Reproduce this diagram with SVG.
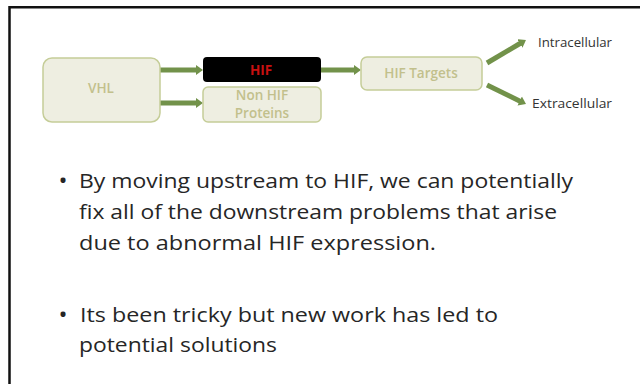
<svg xmlns="http://www.w3.org/2000/svg" width="640" height="384" viewBox="0 0 640 384">
<style>
.box{fill:#eeeee1;stroke:#c5cd98;stroke-width:1.5}
.lbl{font-family:"Open Sans","Liberation Sans",sans-serif;font-size:13.5px;font-weight:600;fill:#c2c08c;text-anchor:middle}
.out{font-family:"Open Sans","Liberation Sans",sans-serif;font-size:13px;fill:#333333}
.conn{stroke:#72924a;stroke-width:5;fill:none}
.body{font-family:"Open Sans","Liberation Sans",sans-serif;font-size:20.5px;fill:#262626}
.dot{font-family:"Open Sans","Liberation Sans",sans-serif;font-size:24px;fill:#262626}
</style>
<defs>
<marker id="ah" markerUnits="userSpaceOnUse" markerWidth="8" markerHeight="11" refX="1" refY="5.5" orient="auto">
<path d="M0,0.5 L7,5.5 L0,10.5 z" fill="#72924a"/>
</marker>
</defs>
<rect width="640" height="384" fill="#ffffff"/>
<path d="M9.5 384 V7.2 H640" fill="none" stroke="#111111" stroke-width="2.5"/>

<g id="connectors">
<line class="conn" x1="160" y1="70" x2="197" y2="70" marker-end="url(#ah)"/>
<line class="conn" x1="160" y1="103" x2="197" y2="103" marker-end="url(#ah)"/>
<line class="conn" x1="321" y1="70" x2="355" y2="70" marker-end="url(#ah)"/>
<line class="conn" x1="487" y1="63" x2="520.8" y2="43" marker-end="url(#ah)"/>
<line class="conn" x1="487" y1="85" x2="520.6" y2="101.4" marker-end="url(#ah)"/>
</g>

<g id="vhl">
<rect class="box" x="43" y="58" width="117" height="64" rx="9"/>
<text class="lbl" x="101" y="93">VHL</text>
</g>
<g id="hif">
<rect x="203" y="57" width="118" height="25" rx="4" fill="#000000"/>
<text class="lbl" x="261" y="74.5" style="fill:#c81010;font-weight:bold">HIF</text>
</g>
<g id="nonhif">
<rect class="box" x="203" y="87" width="118" height="35" rx="5"/>
<text class="lbl" x="262" y="100">Non HIF</text>
<text class="lbl" x="262" y="118">Proteins</text>
</g>
<g id="hiftargets">
<rect class="box" x="361" y="57" width="121" height="33" rx="6"/>
<text class="lbl" x="421" y="78">HIF Targets</text>
</g>
<g id="intracellular">
<text class="out" x="538" y="47" textLength="74" lengthAdjust="spacingAndGlyphs">Intracellular</text>
</g>
<g id="extracellular">
<text class="out" x="532" y="108" textLength="80" lengthAdjust="spacingAndGlyphs">Extracellular</text>
</g>

<g id="bullets">
<text class="dot" x="58.5" y="189">•</text>
<text class="body" x="79" y="188" textLength="494" lengthAdjust="spacingAndGlyphs">By moving upstream to HIF, we can potentially</text>
<text class="body" x="79" y="219" textLength="478" lengthAdjust="spacingAndGlyphs">fix all of the downstream problems that arise</text>
<text class="body" x="79" y="250" textLength="357" lengthAdjust="spacingAndGlyphs">due to abnormal HIF expression.</text>
<text class="dot" x="58.5" y="323">•</text>
<text class="body" x="80" y="322" textLength="418" lengthAdjust="spacingAndGlyphs">Its been tricky but new work has led to</text>
<text class="body" x="79" y="352" textLength="198" lengthAdjust="spacingAndGlyphs">potential solutions</text>
</g>
</svg>
